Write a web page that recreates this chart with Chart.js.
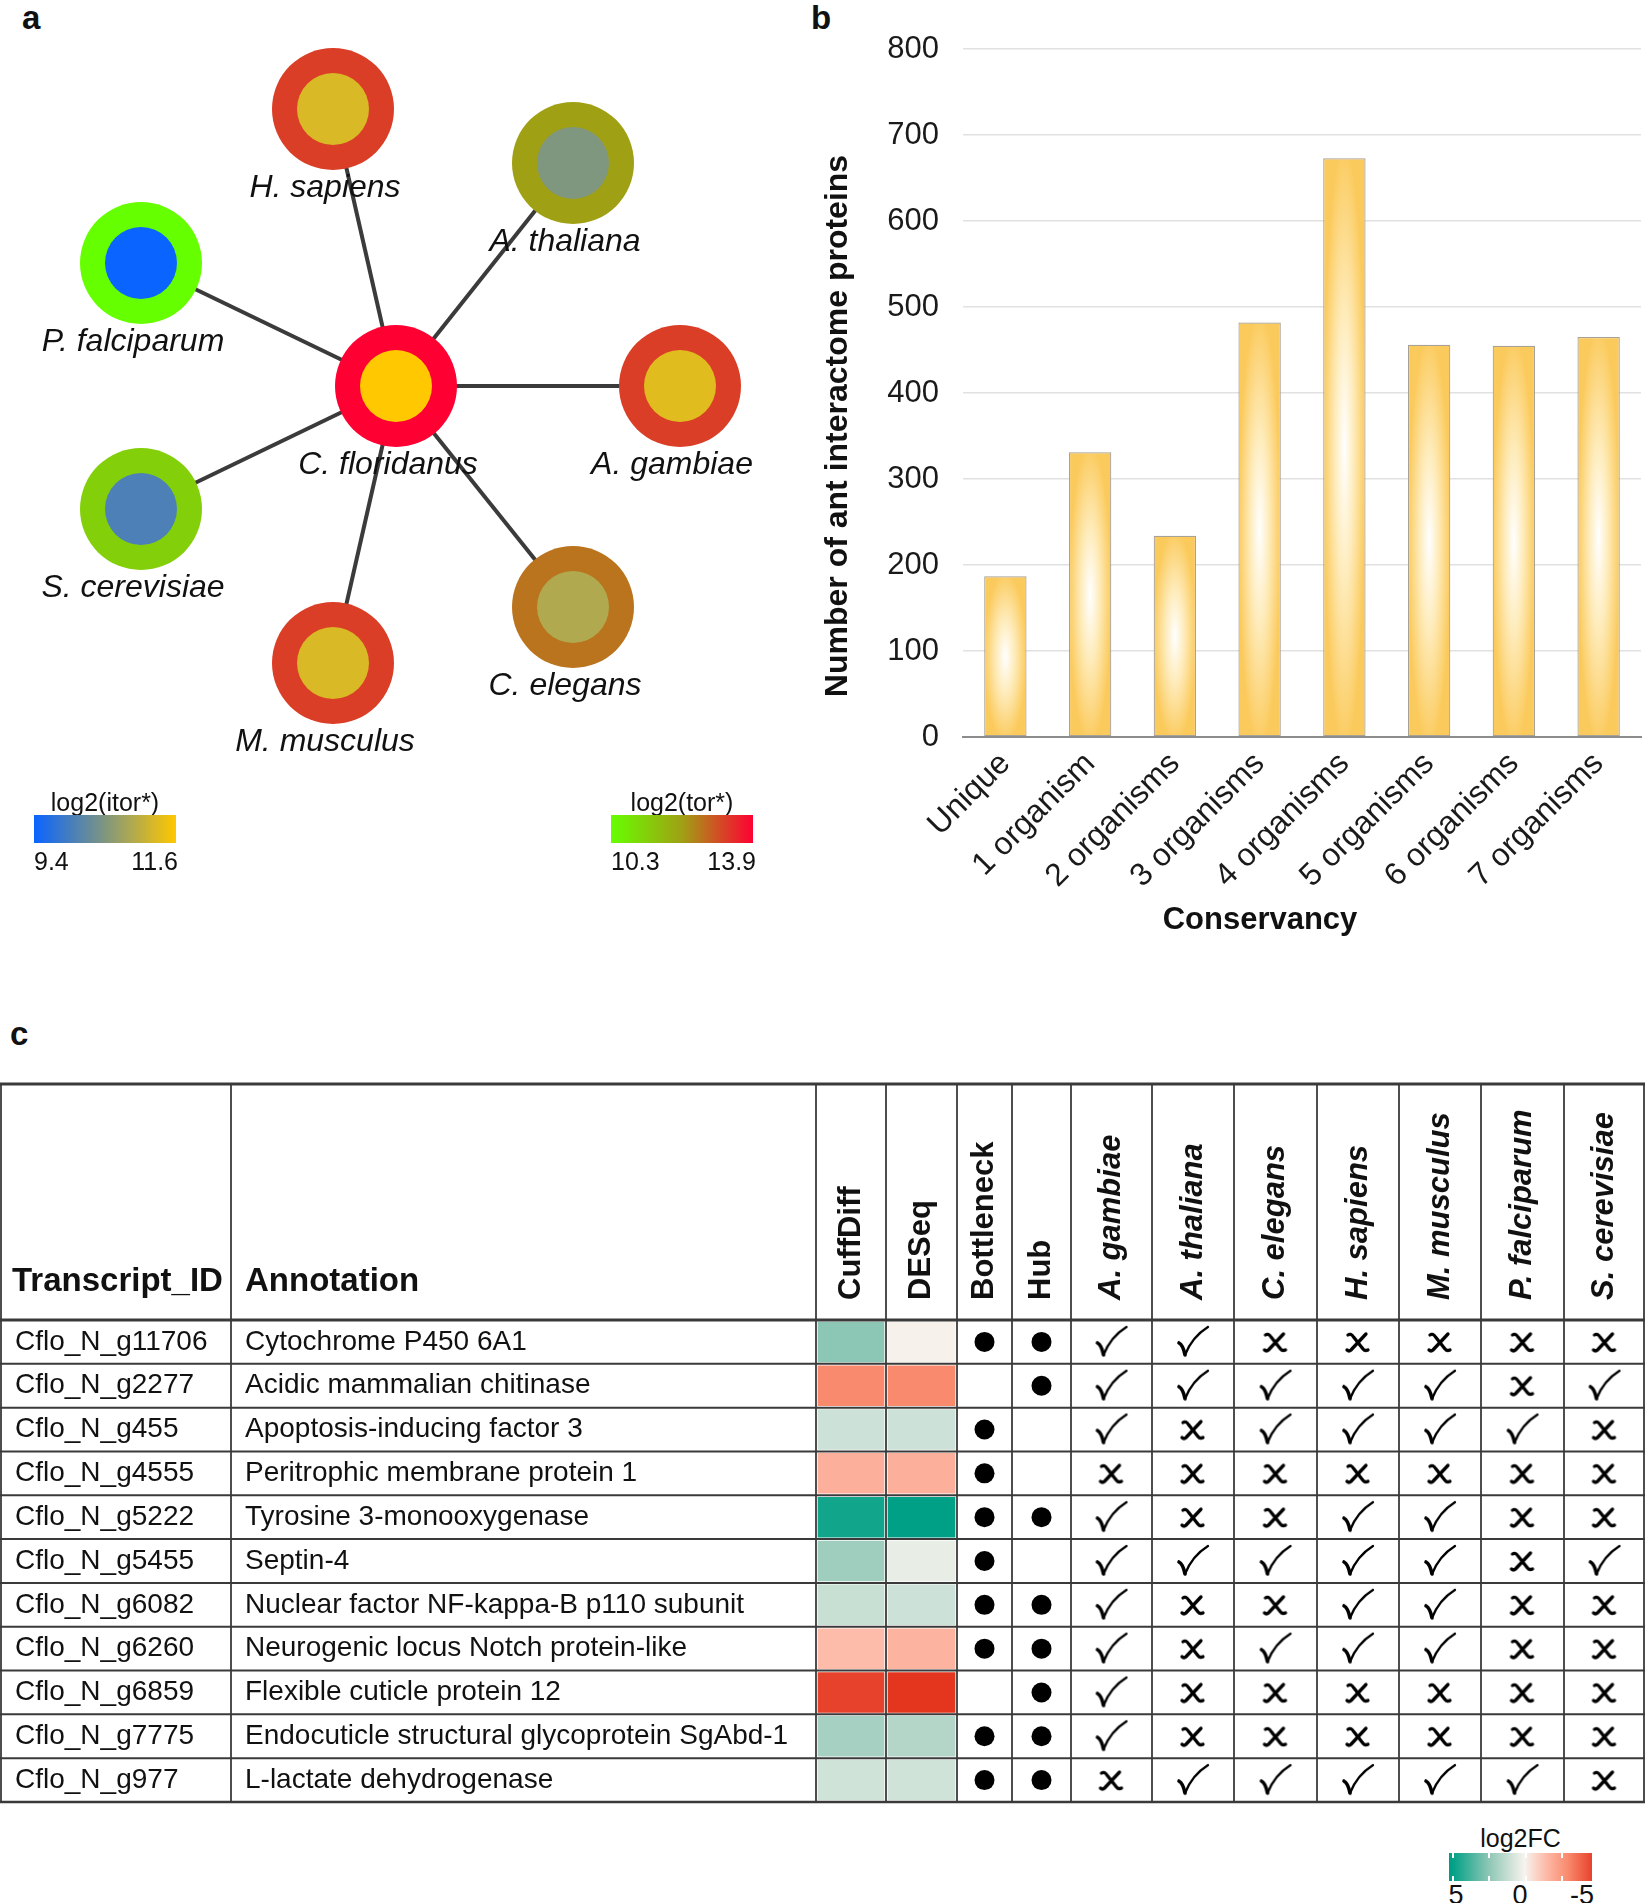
<!DOCTYPE html>
<html>
<head>
<meta charset="utf-8">
<title>Ant interactome conservation</title>
<script src="https://cdn.jsdelivr.net/npm/chart.js@4.4.1/dist/chart.umd.min.js"></script>
<style>
  body { margin: 0; background: #fff; font-family: "Liberation Sans", Arial, sans-serif; color: #111; }
  #page { position: relative; width: 1645px; height: 1903px; overflow: hidden; }
  .abs { position: absolute; }
  .letter { font-weight: bold; font-size: 33px; line-height: 36px; }
  .legend-title { font-size: 25px; line-height: 28px; text-align: center; }
  .legend-tick { font-size: 25px; line-height: 28px; }
  .bar-tick { position: absolute; width: 2px; height: 5px; background: #fff; }
</style>
</head>
<body>
<div id="page">
  <div class="abs letter" style="left:22px;top:0px;">a</div>
  <div class="abs letter" style="left:811px;top:0px;">b</div>
  <div class="abs letter" style="left:10px;top:1016px;">c</div>

  <canvas id="network" class="abs" width="800" height="790" style="left:0;top:0;"></canvas>

  <!-- network colour keys -->
  <div class="abs legend-title" style="left:34px;top:788px;width:142px;">log2(itor*)</div>
  <div id="itorKey" class="abs" style="left:34px;top:815px;width:142px;height:28px;"></div>
  <div id="itorMin" class="abs legend-tick" style="left:34px;top:847px;"></div>
  <div id="itorMax" class="abs legend-tick" style="left:118px;top:847px;width:60px;text-align:right;"></div>

  <div class="abs legend-title" style="left:611px;top:788px;width:142px;">log2(tor*)</div>
  <div id="torKey" class="abs" style="left:611px;top:815px;width:142px;height:28px;"></div>
  <div id="torMin" class="abs legend-tick" style="left:611px;top:847px;"></div>
  <div id="torMax" class="abs legend-tick" style="left:696px;top:847px;width:60px;text-align:right;"></div>

  <canvas id="conservancy" class="abs" width="845" height="960" style="left:800px;top:0;"></canvas>

  <canvas id="table" class="abs" width="1645" height="728" style="left:0;top:1078px;"></canvas>

  <!-- log2FC key -->
  <div class="abs legend-title" style="left:1449px;top:1824px;width:143px;">log2FC</div>
  <div id="fcKey" class="abs" style="left:1449px;top:1853px;width:143px;height:28px;"></div>
</div>

<script>
const FONT = '"Liberation Sans", Arial, sans-serif';
Chart.defaults.font.family = FONT;
Chart.defaults.color = '#111';

// ---------- Panel a: network ----------
const species = ['C. floridanus', 'H. sapiens', 'A. thaliana', 'P. falciparum',
                 'A. gambiae', 'S. cerevisiae', 'C. elegans', 'M. musculus'];
// node layout of the drawn network
const layoutX = [396, 333, 573, 141, 680, 141, 573, 333];
const layoutY = [386, 109, 163, 263, 386, 509, 607, 663];
const torLog2 = [13.9, 13.2, 12.1, 10.3, 13.2, 11.2, 12.6, 13.2];
const itorLog2 = [11.6, 11.27, 10.5, 9.4, 11.33, 10.02, 10.92, 11.27];
const torRange = [10.3, 13.9];
const itorRange = [9.4, 11.6];

// ---------- Panel b: conservancy ----------
const conservancy = ['Unique', '1 organism', '2 organisms', '3 organisms',
                     '4 organisms', '5 organisms', '6 organisms', '7 organisms'];
const proteinCounts = [187, 331, 234, 482, 673, 456, 455, 465];

// ---------- Panel c: table ----------
const transcriptIds = ['Cflo_N_g11706', 'Cflo_N_g2277', 'Cflo_N_g455', 'Cflo_N_g4555',
  'Cflo_N_g5222', 'Cflo_N_g5455', 'Cflo_N_g6082', 'Cflo_N_g6260', 'Cflo_N_g6859',
  'Cflo_N_g7775', 'Cflo_N_g977'];
const annotations = ['Cytochrome P450 6A1', 'Acidic mammalian chitinase',
  'Apoptosis-inducing factor 3', 'Peritrophic membrane protein 1', 'Tyrosine 3-monooxygenase',
  'Septin-4', 'Nuclear factor NF-kappa-B p110 subunit', 'Neurogenic locus Notch protein-like',
  'Flexible cuticle protein 12', 'Endocuticle structural glycoprotein SgAbd-1',
  'L-lactate dehydrogenase'];
const cuffdiffFC = [2.5, -3.0, 1.0, -1.8, 4.7, 2.05, 1.1, -1.45, -4.7, 1.9, 0.9];
const deseqFC = [-0.05, -3.0, 1.0, -1.8, 5.0, 0.35, 1.0, -1.7, -5.0, 1.6, 0.9];
const isBottleneck = [1, 0, 1, 1, 1, 1, 1, 1, 0, 1, 1];
const isHub = [1, 1, 0, 0, 1, 0, 1, 1, 1, 1, 1];
const organisms = ['A. gambiae', 'A. thaliana', 'C. elegans', 'H. sapiens',
                   'M. musculus', 'P. falciparum', 'S. cerevisiae'];
// 1 = homolog present (check), 0 = absent (cross), columns in organisms order
const homologs = ['1100000', '1111101', '1011110', '0000000', '1001100', '1111101',
                  '1001100', '1011100', '1000000', '1000000', '0111110'];
const fcTicks = ['5', '0', '-5'];

// ---------- colour scales ----------
const TOR_STOPS = [[0, [102, 255, 0]], [0.5, [160, 160, 20]], [1, [255, 0, 51]]];
const ITOR_STOPS = [[0, [10, 100, 255]], [0.5, [127, 150, 127]], [1, [255, 200, 0]]];
const FC_STOPS = [[5, [0, 160, 135]], [2.5, [140, 198, 180]], [0, [247, 243, 238]],
                  [-1.5, [253, 186, 168]], [-3, [249, 138, 110]], [-5, [228, 53, 31]]];

function rgb(c) { return `rgb(${c.map(Math.round).join(',')})`; }

function lerpStops(stops, t) {
  for (let i = 1; i < stops.length; i++) {
    const [p0, c0] = stops[i - 1];
    const [p1, c1] = stops[i];
    const lo = Math.min(p0, p1), hi = Math.max(p0, p1);
    if (t >= lo && t <= hi) {
      const f = (t - p0) / (p1 - p0);
      return rgb(c0.map((v, k) => v + (c1[k] - v) * f));
    }
  }
  return rgb(t <= stops[0][0] ? stops[0][1] : stops[stops.length - 1][1]);
}

const torColor = v => lerpStops(TOR_STOPS, (v - torRange[0]) / (torRange[1] - torRange[0]));
const itorColor = v => lerpStops(ITOR_STOPS, (v - itorRange[0]) / (itorRange[1] - itorRange[0]));
const fcColor = v => lerpStops(FC_STOPS, Math.max(-5, Math.min(5, v)));

// keys
document.getElementById('itorKey').style.background =
  `linear-gradient(to right, ${ITOR_STOPS.map(s => rgb(s[1]) + ' ' + s[0] * 100 + '%').join(', ')})`;
document.getElementById('torKey').style.background =
  `linear-gradient(to right, ${TOR_STOPS.map(s => rgb(s[1]) + ' ' + s[0] * 100 + '%').join(', ')})`;
document.getElementById('itorMin').textContent = itorRange[0].toFixed(1);
document.getElementById('itorMax').textContent = itorRange[1].toFixed(1);
document.getElementById('torMin').textContent = torRange[0].toFixed(1);
document.getElementById('torMax').textContent = torRange[1].toFixed(1);

// log2FC key: value 5 sits at 2.3 %, each unit is 10.1 %
const fcPos = v => 2.3 + (5 - v) * 10.1;
const fcKey = document.getElementById('fcKey');
fcKey.style.background = `linear-gradient(to right, ${rgb(FC_STOPS[0][1])} 0%, ` +
  FC_STOPS.map(s => `${rgb(s[1])} ${fcPos(s[0])}%`).join(', ') + ')';
[5, 2.5, 0, -2.5].forEach(v => {
  ['top:0', 'bottom:0'].forEach(edge => {
    const t = document.createElement('div');
    t.className = 'bar-tick';
    t.style.cssText += `left:${fcPos(v)}%;${edge};`;
    fcKey.appendChild(t);
  });
});
const FC_LABEL_X = [1456, 1520, 1582];
fcTicks.forEach((lbl, i) => {
  const d = document.createElement('div');
  d.className = 'abs legend-tick';
  d.style.cssText = `left:${FC_LABEL_X[i] - 30}px;top:1881px;width:60px;text-align:center;font-size:27px;`;
  d.textContent = lbl;
  document.getElementById('page').appendChild(d);
});

// ---------- network chart ----------
const nodeLabels = {
  id: 'nodeLabels',
  afterDatasetsDraw(chart) {
    const { ctx, scales: { x, y } } = chart;
    ctx.save();
    ctx.font = `italic 32px ${FONT}`;
    ctx.fillStyle = '#111';
    ctx.textAlign = 'center';
    ctx.textBaseline = 'middle';
    species.forEach((name, i) => {
      ctx.fillText(name, x.getPixelForValue(layoutX[i]) - 8, y.getPixelForValue(layoutY[i]) + 79);
    });
    ctx.restore();
  }
};

const nodePoints = species.map((s, i) => ({ x: layoutX[i], y: layoutY[i] }));
const edgeSets = species.slice(1).map((s, k) => ({
  label: 'edge ' + s,
  data: [nodePoints[0], nodePoints[k + 1]],
  showLine: true,
  borderColor: '#3b3b3b',
  borderWidth: 4,
  pointRadius: 0,
  order: 3
}));

new Chart(document.getElementById('network'), {
  type: 'scatter',
  data: {
    datasets: [
      ...edgeSets,
      {
        label: 'tor',
        data: nodePoints,
        backgroundColor: torLog2.map(torColor),
        pointRadius: 61,
        pointHoverRadius: 61,
        borderWidth: 0,
        order: 2
      },
      {
        label: 'itor',
        data: nodePoints,
        backgroundColor: itorLog2.map(itorColor),
        pointRadius: 36,
        pointHoverRadius: 36,
        borderWidth: 0,
        order: 1
      }
    ]
  },
  options: {
    responsive: false,
    animation: false,
    layout: { padding: 0, autoPadding: false },
    scales: {
      x: { type: 'linear', min: 0, max: 800, display: false },
      y: { type: 'linear', min: 0, max: 790, reverse: true, display: false }
    },
    plugins: { legend: { display: false }, tooltip: { enabled: false } },
    events: []
  },
  plugins: [nodeLabels]
});

// ---------- conservancy bar chart ----------
const BAR_FRACTION = 0.5;

// soft white glow in the middle of each bar
function barGlow(context) {
  const chart = context.chart;
  const { chartArea, scales } = chart;
  if (!chartArea || !scales.x || !scales.y) return '#fcd06a';
  const key = chartArea.left + ':' + chartArea.right + ':' + chartArea.top + ':' + chartArea.bottom;
  if (!chart.$glow || chart.$glow.key !== key) {
    const off = document.createElement('canvas');
    off.width = chart.width;
    off.height = chart.height;
    const g = off.getContext('2d');
    const band = scales.x.width / proteinCounts.length * BAR_FRACTION;
    proteinCounts.forEach((v, i) => {
      const cx = scales.x.getPixelForValue(i);
      const top = scales.y.getPixelForValue(v);
      const bot = scales.y.getPixelForValue(0);
      g.save();
      g.translate(cx, (top + bot) / 2);
      g.scale(band / 2, (bot - top) / 2 * 1.05);
      const rg = g.createRadialGradient(0, 0, 0, 0, 0, 1);
      rg.addColorStop(0, '#ffffff');
      rg.addColorStop(0.45, '#feebb9');
      rg.addColorStop(1, '#fbca5c');
      g.fillStyle = rg;
      g.fillRect(-1.2, -1.2, 2.4, 2.4);
      g.restore();
    });
    chart.$glow = { key, pattern: chart.ctx.createPattern(off, 'no-repeat') };
  }
  return chart.$glow.pattern;
}

// axis titles sit off-centre in the original, so they are drawn here
const axisTitles = {
  id: 'axisTitles',
  afterDraw(chart) {
    const { ctx, chartArea } = chart;
    ctx.save();
    ctx.font = `bold 32px ${FONT}`;
    ctx.fillStyle = '#111';
    ctx.textAlign = 'center';
    ctx.textBaseline = 'middle';
    ctx.save();
    ctx.translate(38, (chartArea.top + chartArea.bottom) / 2 + 33);
    ctx.rotate(-Math.PI / 2);
    ctx.fillText('Number of ant interactome proteins', 0, 0);
    ctx.restore();
    ctx.font = `bold 31px ${FONT}`;
    ctx.fillText('Conservancy', (chartArea.left + chartArea.right) / 2 - 42, chartArea.bottom + 183);
    ctx.restore();
  }
};

new Chart(document.getElementById('conservancy'), {
  type: 'bar',
  data: {
    labels: conservancy,
    datasets: [{
      label: 'Number of ant interactome proteins',
      data: proteinCounts,
      backgroundColor: barGlow,
      borderColor: '#a8a195',
      borderWidth: 1.2,
      borderSkipped: false,
      categoryPercentage: 1,
      barPercentage: BAR_FRACTION
    }]
  },
  options: {
    responsive: false,
    animation: false,
    layout: { padding: { top: 49, right: 4, bottom: 0, left: 0 } },
    scales: {
      x: {
        grid: { display: false },
        border: { color: '#8c8c8c', width: 2 },
        ticks: {
          color: '#1a1a1a',
          font: { size: 32 },
          minRotation: 45,
          maxRotation: 45,
          autoSkip: false,
          padding: 0
        },
        afterFit: s => { s.height = 223; }
      },
      y: {
        min: 0,
        max: 800,
        ticks: { stepSize: 100, color: '#1a1a1a', font: { size: 31 }, padding: 24 },
        grid: { color: '#e1e1e1', lineWidth: 1.5, drawTicks: false },
        border: { display: false },
        afterFit: s => { s.width = 163; }
      }
    },
    plugins: { legend: { display: false }, tooltip: { enabled: false } },
    events: []
  },
  plugins: [axisTitles]
});

// ---------- table with heatmap ----------
// column edges of the table, in canvas pixels
const COL_EDGES = [0, 231, 816, 886, 957, 1012, 1071, 1152, 1234, 1317, 1399, 1481, 1564, 1645];
const TABLE_TOP = 6;
const colMid = c => (COL_EDGES[c] + COL_EDGES[c + 1]) / 2;
const rotatedHeaders = ['CuffDiff', 'DESeq', 'Bottleneck', 'Hub', ...organisms];

function glyphCanvas(draw) {
  const c = document.createElement('canvas');
  c.width = 36;
  c.height = 36;
  const g = c.getContext('2d');
  g.strokeStyle = '#000';
  g.lineCap = 'round';
  g.lineJoin = 'round';
  draw(g);
  return c;
}
const checkGlyph = glyphCanvas(g => {
  g.lineWidth = 3.6;
  g.beginPath();
  g.moveTo(4, 19);
  g.quadraticCurveTo(8, 21, 10, 31);
  g.stroke();
  g.lineWidth = 2.3;
  g.beginPath();
  g.moveTo(10, 31);
  g.quadraticCurveTo(17, 13, 33, 3);
  g.stroke();
});
const crossGlyph = glyphCanvas(g => {
  g.lineWidth = 3.3;
  g.beginPath();
  g.moveTo(8, 11);
  g.quadraticCurveTo(11, 9, 13.5, 13);
  g.lineTo(23, 25);
  g.quadraticCurveTo(25, 27.5, 28, 26);
  g.stroke();
  g.beginPath();
  g.moveTo(26, 10);
  g.lineTo(11, 26);
  g.quadraticCurveTo(9, 28, 7, 26);
  g.stroke();
});

const markPoints = (flags, col) => flags
  .map((f, i) => f ? { x: colMid(col), y: transcriptIds[i] } : null)
  .filter(Boolean);
const homologPoints = want => {
  const pts = [];
  homologs.forEach((row, i) => {
    row.split('').forEach((v, j) => {
      if (v === want) pts.push({ x: colMid(6 + j), y: transcriptIds[i] });
    });
  });
  return pts;
};

const tableFrame = {
  id: 'tableFrame',
  afterDatasetsDraw(chart) {
    const { ctx, chartArea, scales: { x, y } } = chart;
    const band = y.height / transcriptIds.length;
    const headBottom = chartArea.top;
    const px = v => x.getPixelForValue(v);
    ctx.save();
    ctx.fillStyle = '#111';
    ctx.textAlign = 'left';
    ctx.textBaseline = 'middle';

    // header row
    ctx.font = `bold 33px ${FONT}`;
    ctx.fillText('Transcript_ID', px(COL_EDGES[0]) + 12, headBottom - 38);
    ctx.fillText('Annotation', px(COL_EDGES[1]) + 14, headBottom - 38);
    rotatedHeaders.forEach((name, k) => {
      ctx.save();
      ctx.translate(px(colMid(k + 2)), headBottom - 20);
      ctx.rotate(-Math.PI / 2);
      ctx.font = `${k >= 4 ? 'italic ' : ''}bold 31px ${FONT}`;
      ctx.fillText(name, 0, 0);
      ctx.restore();
    });

    // body text
    ctx.font = `28px ${FONT}`;
    transcriptIds.forEach((id, i) => {
      const cy = y.getPixelForValue(i);
      ctx.fillText(id, px(COL_EDGES[0]) + 15, cy);
      ctx.fillText(annotations[i], px(COL_EDGES[1]) + 14, cy);
    });

    // rules
    ctx.strokeStyle = '#3a3a3a';
    const hLine = (yy, w) => {
      ctx.lineWidth = w;
      ctx.beginPath();
      ctx.moveTo(0, yy);
      ctx.lineTo(chart.width, yy);
      ctx.stroke();
    };
    hLine(TABLE_TOP, 3);
    hLine(headBottom, 3);
    for (let i = 1; i < transcriptIds.length; i++) hLine(headBottom + band * i, 2);
    hLine(chartArea.bottom, 2.5);
    ctx.lineWidth = 1.8;
    COL_EDGES.forEach(edge => {
      const xx = Math.min(Math.max(px(edge), 1), chart.width - 1);
      ctx.beginPath();
      ctx.moveTo(xx, TABLE_TOP);
      ctx.lineTo(xx, chartArea.bottom);
      ctx.stroke();
    });
    ctx.restore();
  }
};

const heatCell = (values, col, label) => ({
  label,
  data: values.map(() => [COL_EDGES[col], COL_EDGES[col + 1]]),
  backgroundColor: values.map(fcColor),
  borderColor: '#ffffff',
  borderWidth: 2,
  borderSkipped: false,
  grouped: false,
  barPercentage: 1,
  categoryPercentage: 1
});

new Chart(document.getElementById('table'), {
  type: 'bar',
  data: {
    labels: transcriptIds,
    datasets: [
      heatCell(cuffdiffFC, 2, 'CuffDiff'),
      heatCell(deseqFC, 3, 'DESeq'),
      { type: 'scatter', label: 'Bottleneck', data: markPoints(isBottleneck, 4),
        pointRadius: 10, backgroundColor: '#000', borderWidth: 0 },
      { type: 'scatter', label: 'Hub', data: markPoints(isHub, 5),
        pointRadius: 10, backgroundColor: '#000', borderWidth: 0 },
      { type: 'scatter', label: 'present', data: homologPoints('1'),
        pointStyle: checkGlyph, pointRadius: 14 },
      { type: 'scatter', label: 'absent', data: homologPoints('0'),
        pointStyle: crossGlyph, pointRadius: 12 }
    ]
  },
  options: {
    indexAxis: 'y',
    responsive: false,
    animation: false,
    layout: { padding: { top: 242, bottom: 4, left: 0, right: 0 }, autoPadding: false },
    scales: {
      x: { type: 'linear', min: 0, max: 1645, display: false },
      y: { type: 'category', offset: true, display: false }
    },
    plugins: { legend: { display: false }, tooltip: { enabled: false } },
    events: []
  },
  plugins: [tableFrame]
});
</script>
</body>
</html>
